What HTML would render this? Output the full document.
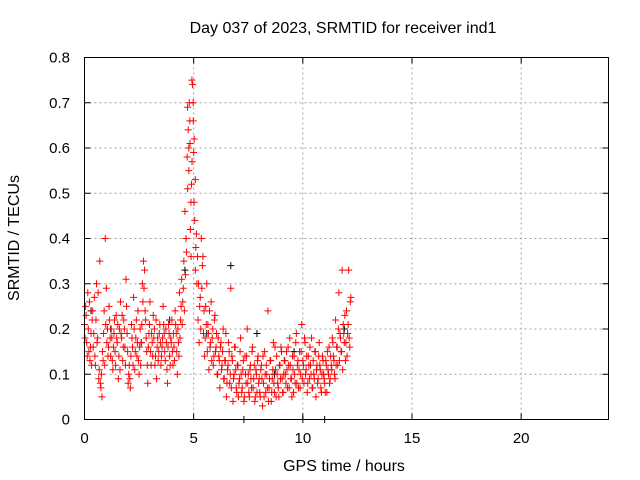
<!DOCTYPE html>
<html><head><meta charset="utf-8">
<style>
html,body{margin:0;padding:0;background:#fff;}
svg{display:block;font-family:"Liberation Sans",Arial,sans-serif;}
</style></head>
<body>
<svg id="chart" width="640" height="480" viewBox="0 0 640 480">
<rect x="0" y="0" width="640" height="480" fill="#fff"/>
<text x="343" y="33" font-size="16" text-anchor="middle" fill="#000">Day 037 of 2023, SRMTID for receiver ind1</text>
<text x="344" y="471" font-size="16" text-anchor="middle" fill="#000">GPS time / hours</text>
<text x="19" y="238" font-size="16" text-anchor="middle" fill="#000" transform="rotate(-90 19 238)">SRMTID / TECUs</text>
<g id="grid"></g>
<g id="ticks"></g>
<g id="marks"></g>
<rect x="84.5" y="57.5" width="524" height="362" fill="none" stroke="#000" stroke-width="1"/>
</svg>
<script>
const xTicks=[0,5,10,15,20];
const yTicks=[0,0.1,0.2,0.3,0.4,0.5,0.6,0.7,0.8];
const yTickLabels=["0","0.1","0.2","0.3","0.4","0.5","0.6","0.7","0.8"];
const times=[0.00,0.05,0.10,0.15,0.20,0.25,0.30,0.35,0.40,0.45,0.50,0.55,0.60,0.65,0.70,0.75,0.80,0.85,0.90,0.95,1.00,1.05,1.10,1.15,1.20,1.25,1.30,1.35,1.40,1.45,1.50,1.55,1.60,1.65,1.70,1.75,1.80,1.85,1.90,1.95,2.00,2.05,2.10,2.15,2.20,2.25,2.30,2.35,2.40,2.45,2.50,2.55,2.60,2.65,2.70,2.75,2.80,2.85,2.90,2.95,3.00,3.05,3.10,3.15,3.20,3.25,3.30,3.35,3.40,3.45,3.50,3.55,3.60,3.65,3.70,3.75,3.80,3.85,3.90,3.95,4.00,4.05,4.10,4.15,4.20,4.25,4.30,4.35,4.40,4.45,4.50,4.55,4.60,4.65,4.70,4.72,4.75,4.78,4.80,4.83,4.85,4.88,4.90,4.92,4.95,4.98,5.00,5.02,5.05,5.08,5.10,5.15,5.20,5.25,5.30,5.35,5.40,5.45,5.50,5.55,5.60,5.65,5.70,5.75,5.80,5.85,5.90,5.95,6.00,6.05,6.10,6.15,6.20,6.25,6.30,6.35,6.40,6.45,6.50,6.55,6.60,6.65,6.70,6.75,6.80,6.85,6.90,6.95,7.00,7.05,7.10,7.15,7.20,7.25,7.30,7.35,7.40,7.45,7.50,7.55,7.60,7.65,7.70,7.75,7.80,7.85,7.90,7.95,8.00,8.05,8.10,8.15,8.20,8.25,8.30,8.35,8.40,8.45,8.50,8.55,8.60,8.65,8.70,8.75,8.80,8.85,8.90,8.95,9.00,9.05,9.10,9.15,9.20,9.25,9.30,9.35,9.40,9.45,9.50,9.55,9.60,9.65,9.70,9.75,9.80,9.85,9.90,9.95,10.00,10.05,10.10,10.15,10.20,10.25,10.30,10.35,10.40,10.45,10.50,10.55,10.60,10.65,10.70,10.75,10.80,10.85,10.90,10.95,11.00,11.05,11.10,11.15,11.20,11.25,11.30,11.35,11.40,11.45,11.50,11.55,11.60,11.65,11.70,11.75,11.80,11.85,11.90,11.95,12.00,12.05,12.10,12.15,12.20];
const srmtid=[.21,.25,.17,.28,.15,.13,.19,.22,.16,.27,.12,.30,.18,.09,.35,.07,.05,.13,.24,.40,.29,.20,.16,.22,.14,.18,.11,.19,.15,.23,.17,.09,.20,.26,.18,.13,.22,.16,.31,.19,.08,.12,.07,.21,.16,.27,.11,.18,.14,.24,.10,.20,.17,.30,.35,.33,.22,.15,.08,.19,.26,.12,.17,.23,.20,.14,.09,.18,.15,.21,.12,.16,.25,.19,.13,.17,.08,.21,.14,.18,.22,.12,.16,.24,.19,.10,.17,.28,.22,.31,.26,.35,.46,.40,.58,.69,.64,.55,.70,.61,.42,.36,.52,.75,.74,.66,.59,.48,.44,.33,.38,.30,.22,.17,.27,.40,.34,.19,.14,.25,.30,.21,.11,.16,.26,.18,.12,.22,.15,.19,.10,.14,.07,.17,.12,.20,.09,.13,.05,.11,.17,.08,.29,.14,.04,.10,.16,.07,.12,.05,.09,.18,.06,.11,.04,.14,.08,.20,.10,.05,.12,.07,.16,.09,.04,.11,.06,.14,.09,.05,.12,.03,.08,.15,.06,.10,.24,.07,.13,.04,.09,.17,.06,.11,.14,.08,.05,.12,.16,.09,.06,.13,.10,.15,.07,.12,.18,.09,.05,.11,.14,.08,.19,.12,.07,.15,.10,.21,.13,.08,.17,.11,.06,.14,.09,.12,.18,.07,.10,.15,.05,.12,.09,.17,.11,.06,.14,.10,.08,.13,.06,.11,.16,.09,.12,.18,.14,.10,.22,.16,.12,.28,.19,.15,.33,.21,.17,.13,.24,.19,.33,.16,.27];
const times2=[0.025,0.075,0.125,0.175,0.225,0.275,0.325,0.375,0.425,0.475,0.525,0.575,0.625,0.675,0.725,0.775,0.825,0.875,0.925,0.975,1.025,1.075,1.125,1.175,1.225,1.275,1.325,1.375,1.425,1.475,1.525,1.575,1.625,1.675,1.725,1.775,1.825,1.875,1.925,1.975,2.025,2.075,2.125,2.175,2.225,2.275,2.325,2.375,2.425,2.475,2.525,2.575,2.625,2.675,2.725,2.775,2.825,2.875,2.925,2.975,3.025,3.075,3.125,3.175,3.225,3.275,3.325,3.375,3.425,3.475,3.525,3.575,3.625,3.675,3.725,3.775,3.825,3.875,3.925,3.975,4.025,4.075,4.125,4.175,4.225,4.275,4.325,4.375,4.425,4.475,4.525,4.575,4.625,4.675,4.725,4.775,4.825,4.875,4.925,4.975,5.025,5.075,5.125,5.175,5.225,5.275,5.325,5.375,5.425,5.475,5.525,5.575,5.625,5.675,5.725,5.775,5.825,5.875,5.925,5.975,6.025,6.075,6.125,6.175,6.225,6.275,6.325,6.375,6.425,6.475,6.525,6.575,6.625,6.675,6.725,6.775,6.825,6.875,6.925,6.975,7.025,7.075,7.125,7.175,7.225,7.275,7.325,7.375,7.425,7.475,7.525,7.575,7.625,7.675,7.725,7.775,7.825,7.875,7.925,7.975,8.025,8.075,8.125,8.175,8.225,8.275,8.325,8.375,8.425,8.475,8.525,8.575,8.625,8.675,8.725,8.775,8.825,8.875,8.925,8.975,9.025,9.075,9.125,9.175,9.225,9.275,9.325,9.375,9.425,9.475,9.525,9.575,9.625,9.675,9.725,9.775,9.825,9.875,9.925,9.975,10.025,10.075,10.125,10.175,10.225,10.275,10.325,10.375,10.425,10.475,10.525,10.575,10.625,10.675,10.725,10.775,10.825,10.875,10.925,10.975,11.025,11.075,11.125,11.175,11.225,11.275,11.325,11.375,11.425,11.475,11.525,11.575,11.625,11.675,11.725,11.775,11.825,11.875,11.925,11.975,12.025,12.075,12.125,12.175];
const srmtid2=[.18,.23,.14,.20,.26,.16,.12,.24,.19,.14,.22,.17,.28,.11,.08,.10,.15,.19,.12,.21,.17,.14,.25,.18,.20,.13,.16,.22,.12,.18,.21,.14,.11,.19,.23,.16,.20,.12,.25,.15,.10,.09,.14,.18,.12,.20,.15,.22,.17,.13,.16,.12,.21,.26,.29,.24,.18,.12,.16,.21,.15,.19,.14,.18,.12,.22,.16,.13,.19,.17,.14,.18,.21,.15,.20,.11,.16,.19,.12,.17,.15,.19,.13,.21,.15,.20,.14,.18,.25,.21,.29,.24,.32,.37,.51,.60,.66,.48,.57,.70,.62,.53,.41,.36,.30,.25,.20,.29,.36,.24,.18,.21,.15,.19,.24,.17,.13,.20,.14,.23,.16,.10,.18,.13,.16,.11,.15,.09,.13,.19,.08,.12,.15,.10,.07,.13,.09,.16,.11,.06,.12,.08,.15,.10,.07,.13,.05,.10,.14,.08,.06,.11,.09,.15,.07,.12,.05,.10,.13,.08,.06,.11,.09,.14,.05,.10,.12,.07,.04,.09,.13,.06,.11,.08,.16,.05,.10,.07,.12,.09,.15,.06,.10,.13,.08,.11,.16,.07,.12,.09,.14,.06,.10,.17,.08,.13,.11,.07,.15,.09,.12,.18,.10,.14,.08,.12,.16,.10,.07,.13,.09,.15,.11,.08,.14,.12,.07,.10,.13,.09,.06,.12,.15,.10,.08,.14,.11,.17,.13,.09,.12,.16,.20,.13,.18,.15,.11,.19,.23,.17,.14,.21,.18,.26,.15,.20,.22];
const blackTimes=[0.3,1.2,2.6,3.9,4.6,5.6,6.7,7.3,7.9,8.7,9.6,10.0,11.0,11.9];
const blackVals=[.24,.20,.17,.22,.33,.19,.34,0,.19,.10,.15,0,0,.20];
const X0=84.5,X1=608.5,Y0=419.5,Y1=57.5;
const xs=v=>X0+(v/24)*(X1-X0);
const ys=v=>Y0-(v/0.8)*(Y0-Y1);
const NS="http://www.w3.org/2000/svg";
const grid=document.getElementById('grid'),ticks=document.getElementById('ticks'),marks=document.getElementById('marks');
function mk(tag,attrs,parent){const e=document.createElementNS(NS,tag);for(const k in attrs)e.setAttribute(k,attrs[k]);parent.appendChild(e);return e;}
xTicks.forEach((t)=>{
  const x=xs(t);
  if(t>0){const g=mk('line',{x1:x,y1:Y0,x2:x,y2:Y1,stroke:'#a0a0a0','stroke-dasharray':'2,3'},grid);
  
  }
  mk('line',{x1:x,y1:Y0,x2:x,y2:Y0-6,stroke:'#000'},ticks);
  mk('line',{x1:x,y1:Y1,x2:x,y2:Y1+6,stroke:'#000'},ticks);
  const l=mk('text',{x:x,y:443,'font-size':15,'text-anchor':'middle',fill:'#000'},ticks);
  l.textContent=String(t);
  
  
});
yTicks.forEach((t,i)=>{
  const y=ys(t);
  if(t>0&&t<0.8){const g=mk('line',{x1:X0,y1:y,x2:X1,y2:y,stroke:'#a0a0a0','stroke-dasharray':'2,3'},grid);
  
  }
  mk('line',{x1:X0,y1:y,x2:X0+6,y2:y,stroke:'#000'},ticks);
  mk('line',{x1:X1,y1:y,x2:X1-6,y2:y,stroke:'#000'},ticks);
  const l=mk('text',{x:70,y:y+5,'font-size':15,'text-anchor':'end',fill:'#000'},ticks);
  l.textContent=yTickLabels[i];
  
  
});
function plus(x,y,color,name){
  const p=mk('path',{d:`M${x-3.5},${y}H${x+3.5}M${x},${y-3.5}V${y+3.5}`,stroke:color,'stroke-width':1,fill:'none'},marks);
  
  
}
blackTimes.forEach((t,i)=>plus(xs(t),ys(blackVals[i]),'#000','black-point'));
times.forEach((t,i)=>plus(xs(t),ys(srmtid[i]),'#ff0000','srmtid-point'));
times2.forEach((t,i)=>plus(xs(t),ys(srmtid2[i]),'#ff0000','srmtid-point'));
</script>
</body></html>
